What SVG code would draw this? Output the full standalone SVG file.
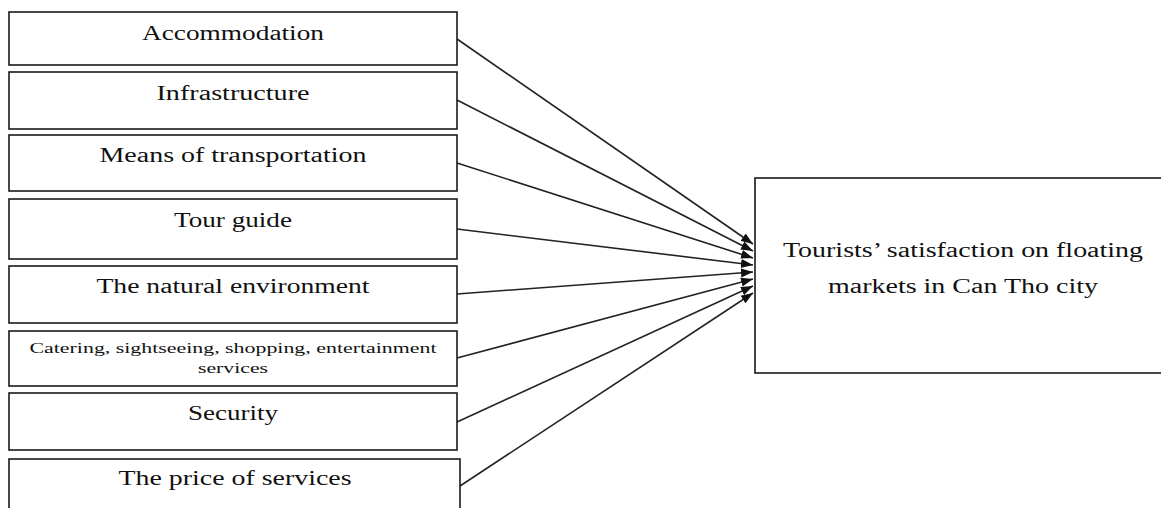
<svg xmlns="http://www.w3.org/2000/svg" width="1161" height="508" viewBox="0 0 1161 508">
<style>
.box{fill:#fff;stroke:#1a1a1a;stroke-width:1.6}
.t{font-family:"Liberation Serif","Times New Roman",serif;font-size:20px;fill:#111;text-anchor:middle}
.s{font-size:15px}
.c{stroke:#222;stroke-width:1.6;fill:none;marker-end:url(#ah)}
</style>
<defs>
<marker id="ah" markerUnits="userSpaceOnUse" markerWidth="13" markerHeight="10" refX="12" refY="5" orient="auto">
<path d="M0,0.5 L12,5 L0,9.5 z" fill="#111"/>
</marker>
</defs>
<rect width="1161" height="508" fill="#fff"/>
<g id="n1"><rect class="box" x="9" y="12" width="448" height="53"/><text class="t" x="233" y="40" textLength="182" lengthAdjust="spacingAndGlyphs">Accommodation</text></g>
<g id="n2"><rect class="box" x="9" y="72" width="448" height="57"/><text class="t" x="233" y="100" textLength="153" lengthAdjust="spacingAndGlyphs">Infrastructure</text></g>
<g id="n3"><rect class="box" x="9" y="135" width="448" height="56"/><text class="t" x="233" y="162" textLength="267" lengthAdjust="spacingAndGlyphs">Means of transportation</text></g>
<g id="n4"><rect class="box" x="9" y="199" width="448" height="60"/><text class="t" x="233" y="227" textLength="118" lengthAdjust="spacingAndGlyphs">Tour guide</text></g>
<g id="n5"><rect class="box" x="9" y="266" width="448" height="57"/><text class="t" x="233" y="293" textLength="273" lengthAdjust="spacingAndGlyphs">The natural environment</text></g>
<g id="n6"><rect class="box" x="9" y="331" width="448" height="55"/><text class="t s" x="233" y="353" textLength="407" lengthAdjust="spacingAndGlyphs">Catering, sightseeing, shopping, entertainment</text><text class="t s" x="233" y="373" textLength="70" lengthAdjust="spacingAndGlyphs">services</text></g>
<g id="n7"><rect class="box" x="9" y="393" width="448" height="57"/><text class="t" x="233" y="420" textLength="90" lengthAdjust="spacingAndGlyphs">Security</text></g>
<g id="n8"><rect class="box" x="9" y="459" width="451" height="60"/><text class="t" x="235" y="485" textLength="233" lengthAdjust="spacingAndGlyphs">The price of services</text></g>
<g id="target"><rect class="box" x="755" y="178" width="410" height="195"/><text class="t" x="963" y="257" textLength="360" lengthAdjust="spacingAndGlyphs">Tourists’ satisfaction on floating</text><text class="t" x="963" y="293" textLength="270" lengthAdjust="spacingAndGlyphs">markets in Can Tho city</text></g>
<g id="connectors">
<line class="c" x1="457" y1="39" x2="753" y2="244"/>
<line class="c" x1="457" y1="100" x2="753" y2="251"/>
<line class="c" x1="457" y1="163" x2="753" y2="258"/>
<line class="c" x1="457" y1="229" x2="753" y2="265"/>
<line class="c" x1="457" y1="294" x2="753" y2="272"/>
<line class="c" x1="457" y1="358" x2="753" y2="279"/>
<line class="c" x1="457" y1="422" x2="753" y2="286"/>
<line class="c" x1="460" y1="486" x2="753" y2="293"/>
</g>
</svg>
